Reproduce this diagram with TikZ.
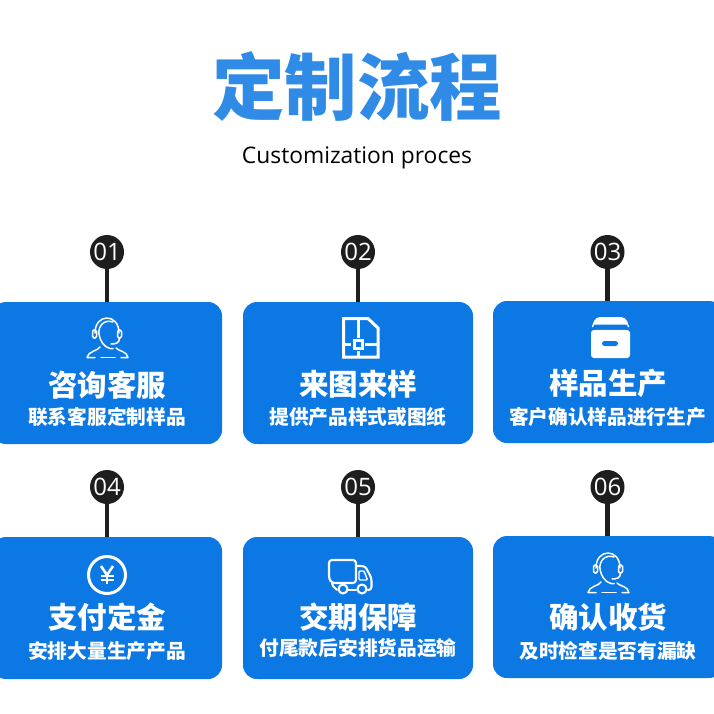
\documentclass[tikz,border=0pt]{standalone}
\usepackage{fontspec}
\setmainfont{Open Sans}
\newfontfamily\cjk{Noto Sans CJK SC}
\definecolor{cardblue}{HTML}{0B78E3}
\definecolor{titleblue}{HTML}{2F8BE6}
\definecolor{inkdark}{HTML}{1E1E1E}
\tikzset{
  cardbox/.style={fill=cardblue,rounded corners=14pt,minimum width=230pt,minimum height=142pt,inner sep=0pt,draw=none},
  numdot/.style={circle,fill=inkdark,minimum size=34pt,inner sep=0pt,text=white,font=\fontsize{24}{24}\selectfont},
  stem/.style={draw=inkdark,line width=4.5pt},
  cardtitle/.style={text=white,inner sep=0pt,font=\cjk\bfseries\fontsize{29.5}{30}\selectfont},
  cardsub/.style={text=white,inner sep=0pt,font=\cjk\bfseries\fontsize{19.7}{20}\selectfont},
  iconline/.style={draw=white,line width=1.5pt,line cap=round,line join=round},
  iconthick/.style={draw=white,line width=3pt,line join=miter},
}
\newcommand\stepcard[7]{%
  \node[cardbox] (b#1) at (#2,#3) {};
  \node[numdot] (n#1) at (#4,#5) {#6};
  \draw[stem] (n#1.south) -- (n#1.south |- b#1.north);
}
\newcommand\headicon[2]{%
  \begin{scope}[shift={(#1,#2)}]
    \draw[iconline] (-12,-5) .. controls (-12,-25) and (12,-25) .. (12,-5);
    \draw[iconline,rounded corners=1.5pt] (-14.5,-8) rectangle (-10.5,0);
    \draw[iconline,rounded corners=1.5pt] (10.5,-8) rectangle (14.5,0);
    \draw[iconline] (6,-16) .. controls (-3,-19) and (-9,-12) .. (-8,-4) .. controls (-7,3) and (-3,9) .. (3,10.5) -- (6,10.5);
    \draw[iconline] (12.5,0) .. controls (12.5,5) and (9,6) .. (4,6) ;
    \draw[iconline] (-7,9) .. controls (-9,13) and (-19,13) .. (-20,19.5) -- (-12,19.5);
    \draw[iconline] (-6,19.5) -- (8,19.5);
    \draw[iconline] (9,10) .. controls (11,13) and (20,13) .. (21,19.5) -- (14,19.5);
  \end{scope}}
\begin{document}
\begin{tikzpicture}[x=1pt,y=-1pt]
\useasboundingbox (0,0) rectangle (714,714);
\clip (0,0) rectangle (714,714);
\fill[white] (0,0) rectangle (714,714);

\node[text=titleblue,inner sep=0pt,font=\cjk\bfseries\fontsize{72.5}{73}\selectfont] (maintitle) at (357,86.5) {定制流程};
\node[text=black,inner sep=0pt,font=\fontsize{22.8}{23}\selectfont] (subtitle) at (357,158) {Customization proces};

\stepcard{1}{107}{373}{107}{252}{01}{}
\stepcard{2}{358}{373}{358}{252}{02}{}
\stepcard{3}{608}{372}{607.5}{252}{03}{}
\stepcard{4}{107}{608}{107}{487}{04}{}
\stepcard{5}{358}{608}{358}{487}{05}{}
\stepcard{6}{608}{607}{607.5}{487}{06}{}

\node[cardtitle] (t1) at (107,385) {咨询客服};
\node[cardsub] (s1) at (107,417) {联系客服定制样品};
\node[cardtitle] (t2) at (358,384) {来图来样};
\node[cardsub] (s2) at (358,417) {提供产品样式或图纸};
\node[cardtitle] (t3) at (608,383) {样品生产};
\node[cardsub] (s3) at (607.5,417) {客户确认样品进行生产};
\node[cardtitle] (t4) at (107,617) {支付定金};
\node[cardsub] (s4) at (107,651) {安排大量生产产品};
\node[cardtitle] (t5) at (358,617) {交期保障};
\node[cardsub] (s5) at (358,648) {付尾款后安排货品运输};
\node[cardtitle] (t6) at (608,617) {确认收货};
\node[cardsub] (s6) at (608,651) {及时检查是否有漏缺};

\headicon{107}{338}
\headicon{608}{573}

% drawing-sheet icon
\begin{scope}[shift={(343,317)}]
  \draw[iconthick] (0.5,1.5) -- (25,1.5) -- (35,11) -- (35,40) -- (0.5,40) -- cycle;
  \draw[iconthick] (15.5,1.5) -- (15.5,21);
  \draw[iconthick] (11,23) rectangle (19.5,31);
  \draw[iconthick] (0.5,27) -- (8,27);
  \draw[iconthick] (22,27) -- (35,27);
  \draw[iconthick] (15.5,34) -- (15.5,40);
\end{scope}

% box icon
\begin{scope}[shift={(591,317)}]
  \fill[white,rounded corners=3pt] (0,13) -- (0,41) -- (39,41) -- (39,13) -- cycle;
  \fill[white,rounded corners=4pt] (1,8) -- (5,0) -- (34,0) -- (38,8) -- (38,12) -- (1,12) -- cycle;
  \fill[cardblue] (3.5,7.5) -- (35.5,7.5) -- (38,12) -- (1,12) -- cycle;
  \fill[cardblue,rounded corners=2.5pt] (11,24) rectangle (27,29);
\end{scope}

% yen icon
\begin{scope}[shift={(107,575)}]
  \draw[draw=white,line width=3pt] (0,0) circle[radius=18.5];
  \draw[draw=white,line width=2.6pt] (-6,-9) -- (0,0) -- (6,-9);
  \draw[draw=white,line width=2.6pt] (0,0) -- (0,9);
  \draw[draw=white,line width=2pt] (-6.5,0.5) -- (6.5,0.5);
  \draw[draw=white,line width=2pt] (-6.5,4.5) -- (6.5,4.5);
\end{scope}

% truck icon
\begin{scope}[shift={(328,559)}]
  \draw[iconline,line width=2.1pt,rounded corners=3pt] (4,24) -- (1,20) -- (1,1) -- (28,1) -- (28,24) -- cycle;
  \draw[iconline,line width=2.1pt,rounded corners=3pt] (28,7) -- (37,7) -- (43.5,19) -- (43.5,31) -- (40,31);
  \draw[iconline,line width=2.1pt] (4,24) -- (5,27) -- (9,31);
  \draw[iconline,line width=2.1pt] (20,31) -- (28,31);
  \draw[iconline,line width=1.4pt,rounded corners=1pt] (31,12) -- (36,12) -- (39.5,21) -- (31,21) -- cycle;
  \draw[iconline,line width=2.1pt] (15,30) circle[radius=4.5];
  \draw[iconline,line width=2.1pt] (34,30) circle[radius=4.5];
\end{scope}
\end{tikzpicture}
\end{document}
